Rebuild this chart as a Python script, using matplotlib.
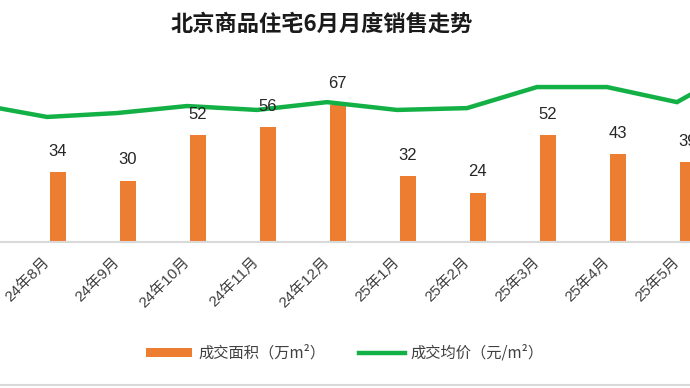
import matplotlib
matplotlib.use("Agg")
import matplotlib.pyplot as plt
import matplotlib.transforms as mtransforms
from matplotlib.lines import Line2D
from matplotlib.patches import Patch
import numpy as np

plt.rcParams['font.family'] = ['Liberation Sans', 'Noto Sans CJK SC', 'DejaVu Sans']

# Monatsdaten (24年7月 und 25年6月 liegen am Bildrand, nur angeschnitten)
months = ["24年7月", "24年8月", "24年9月", "24年10月", "24年11月", "24年12月",
          "25年1月", "25年2月", "25年3月", "25年4月", "25年5月", "25年6月"]
area = [40, 34, 30, 52, 56, 67, 32, 24, 52, 43, 39, 45]           # 万m²
price = [53000, 48100, 49600, 52300, 50800, 53800,
         50800, 51500, 59600, 59600, 53800, 68800]                  # 元/m²

orange = '#ED7D31'
green = '#13B045'
grey = '#D9D9D9'

fig = plt.figure(figsize=(6.9, 3.88), dpi=100)
ax = fig.add_axes([0, 0.3763, 1, 0.469])
ax2 = ax.twinx()

x = np.arange(len(months))
bar_off = 0.155
ax.bar(x + bar_off, area, width=0.23, color=orange, zorder=2)

ax2.plot(x, price, color=green, lw=3.2, solid_joinstyle='miter', zorder=3)

for xi, v in zip(x, area):
    ax2.annotate(f"{v}", (xi + bar_off, v), xycoords=ax.transData,
                 xytext=(0, 15), textcoords='offset points',
                 ha='center', va='center', fontsize=12, color='#262626',
                 annotation_clip=False, zorder=5)

for a in (ax, ax2):
    for s in ['top', 'left', 'right']:
        a.spines[s].set_visible(False)
    a.set_yticks([])
ax2.spines['bottom'].set_visible(False)
ax.spines['bottom'].set_color(grey)
ax.spines['bottom'].set_linewidth(1.5)

ax.set_xticks(x)
ax.set_xticklabels(months, rotation=45, ha='right', va='top',
                   rotation_mode='anchor', fontsize=11, color='#404040')
ax.tick_params(axis='x', length=0, pad=9)
shift = mtransforms.ScaledTranslation(-0.05, 0, fig.dpi_scale_trans)
for lbl in ax.get_xticklabels():
    lbl.set_transform(lbl.get_transform() + shift)

# Grenzen erst nach set_xticks setzen (sonst wird der Bereich erweitert)
xlim = (0.3286, 10.186)
ax.set_xlim(*xlim)
ax2.set_xlim(*xlim)
ax.set_ylim(0, 88.8)
ax2.set_ylim(0, 70000)

fig.text(0.467, 0.938, "北京商品住宅6月月度销售走势", ha='center', va='center',
         fontsize=16, fontweight='bold', color='#1a1a1a',
         family=['Noto Sans CJK SC', 'DejaVu Sans'])

handles = [Patch(facecolor=orange, edgecolor='none'),
           Line2D([0], [0], color=green, lw=3.2)]
leg = fig.legend(handles, ["成交面积（万m²）", "成交均价（元/m²）"],
                 loc='center', bbox_to_anchor=(0.5, 0.09), ncol=2,
                 frameon=False, handlelength=3.0, handleheight=0.5,
                 columnspacing=2.2, handletextpad=0.4,
                 prop={'family': ['Noto Sans CJK SC', 'DejaVu Sans'], 'size': 11})
for t in leg.get_texts():
    t.set_color('#404040')

fig.add_artist(Line2D([0, 1], [0.008, 0.008], transform=fig.transFigure,
                      color=grey, lw=1.5))

plt.savefig("out.png", dpi=100)
